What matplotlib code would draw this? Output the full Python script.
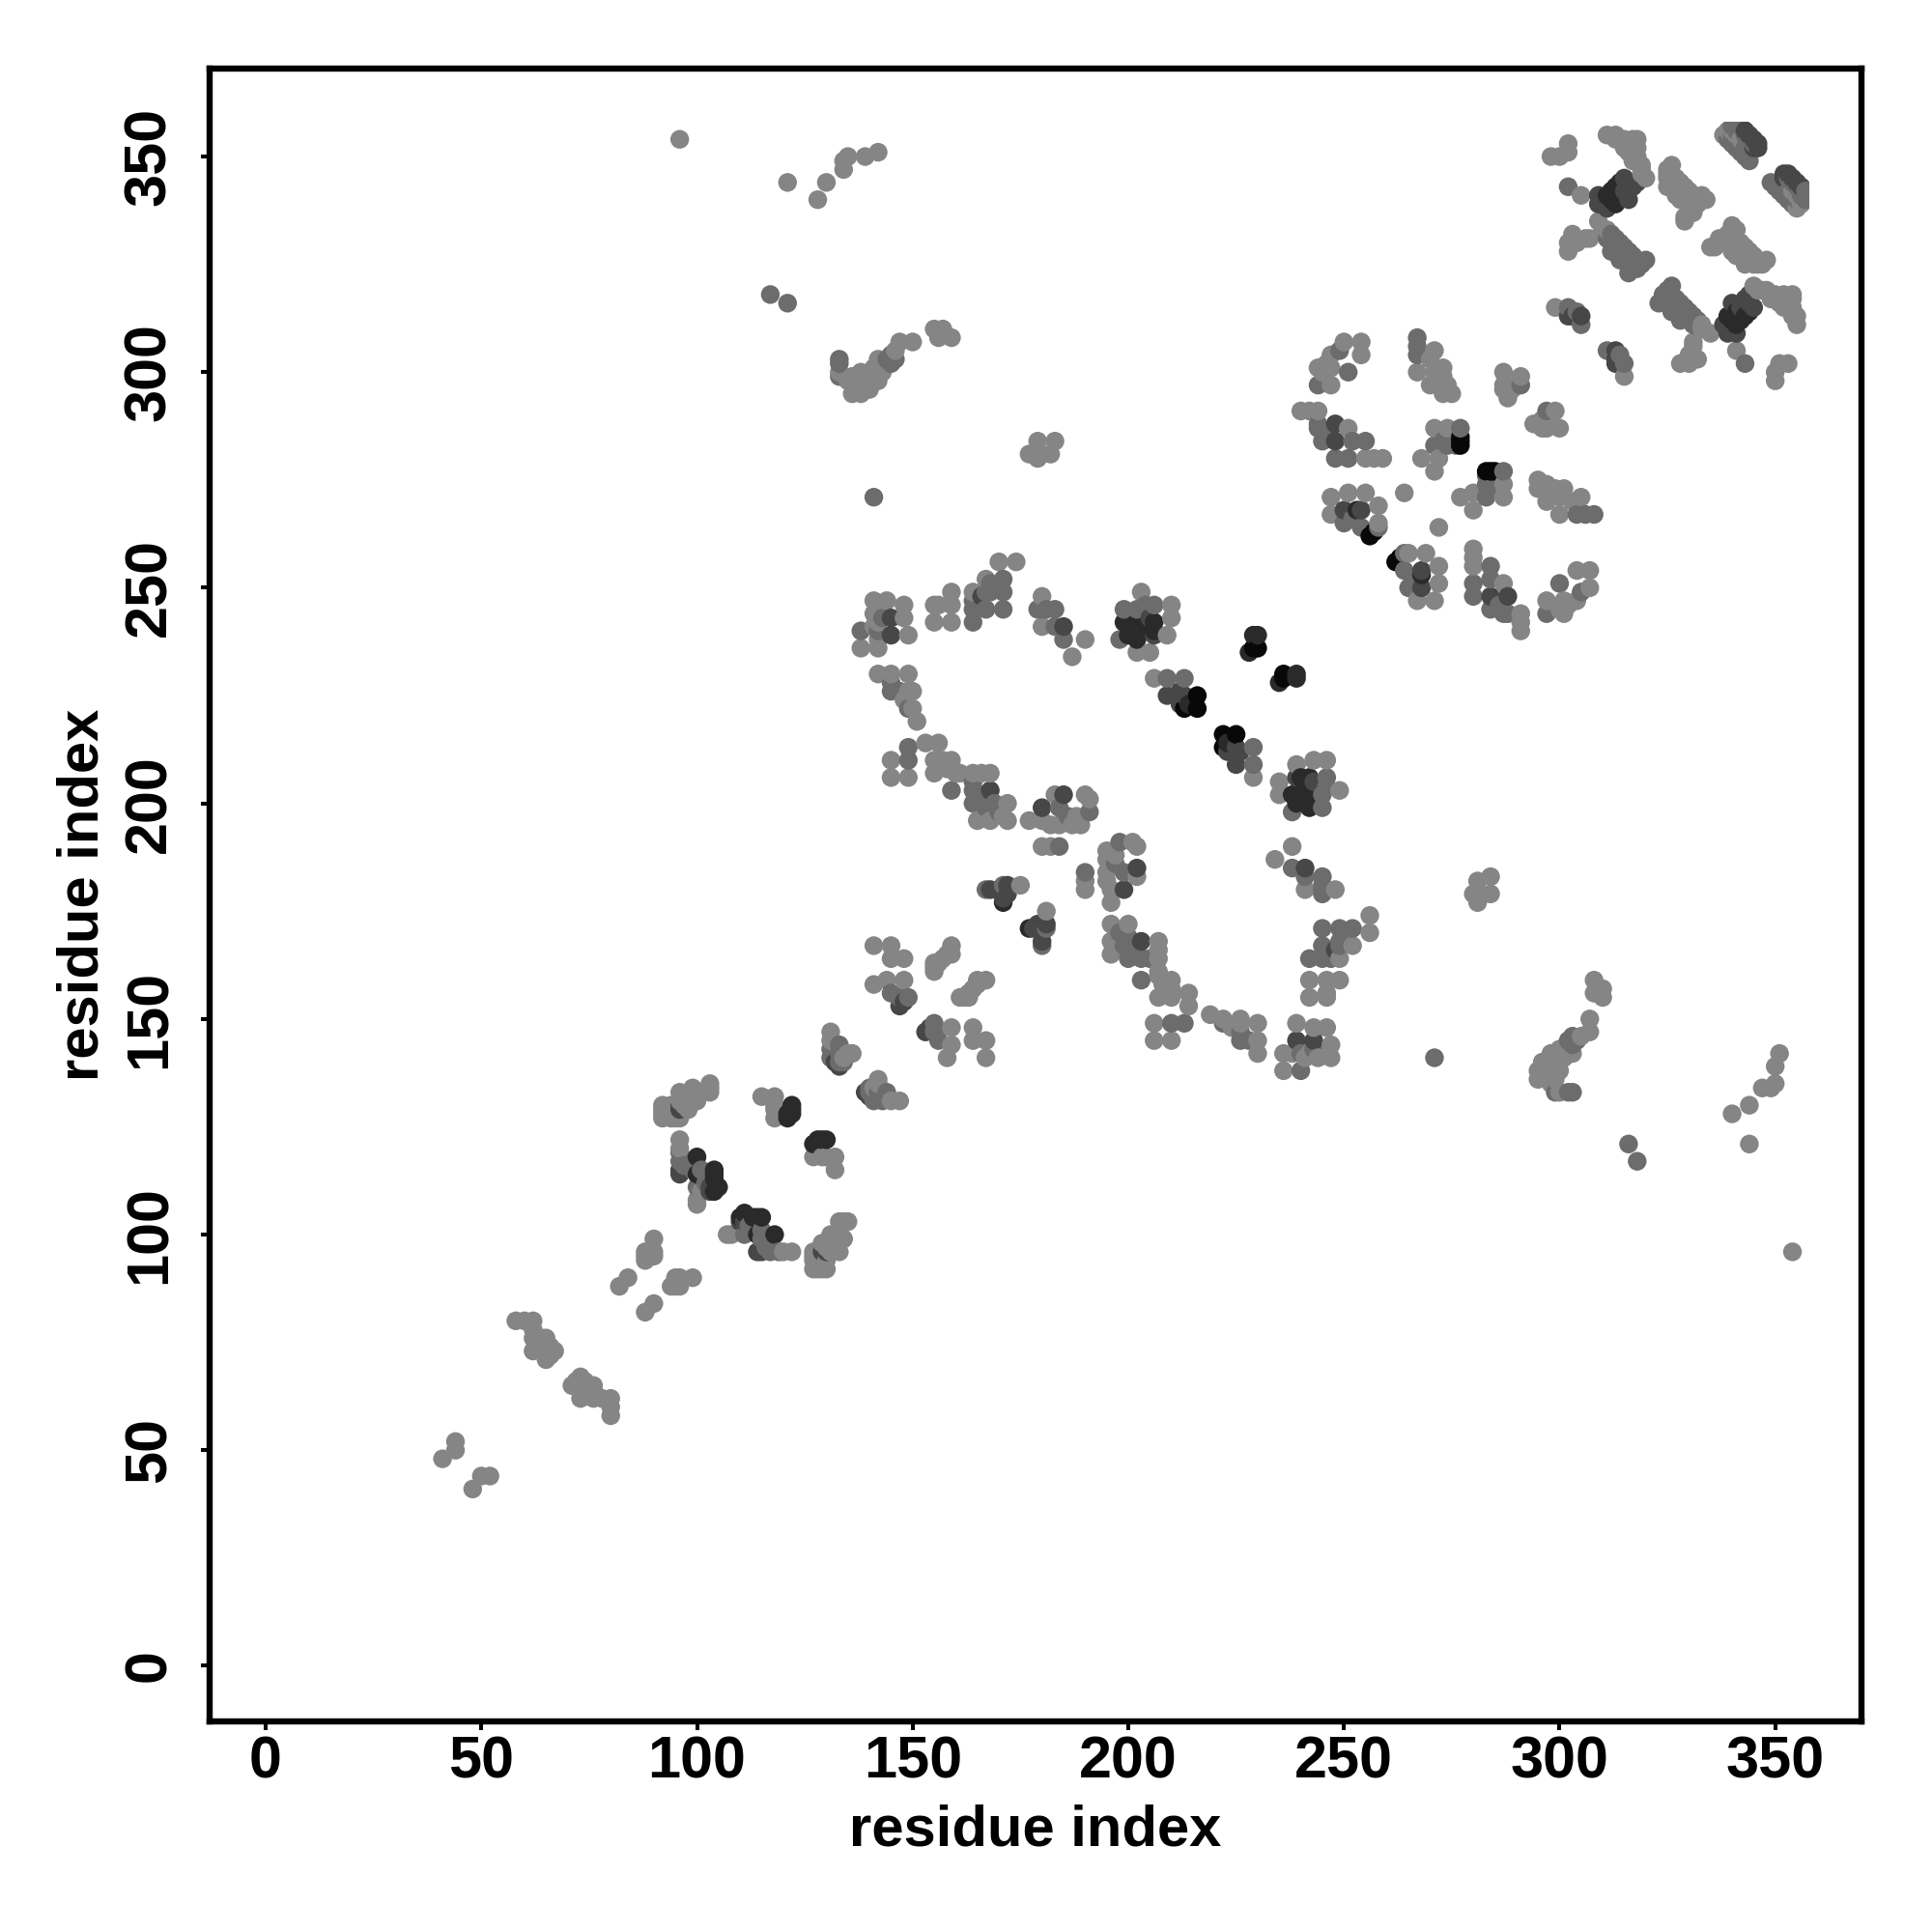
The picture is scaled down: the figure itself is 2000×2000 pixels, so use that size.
import matplotlib
matplotlib.use("Agg")
import numpy as np
import matplotlib.pyplot as plt
from matplotlib.patches import Rectangle

plt.rcParams['font.family'] = ['Liberation Sans', 'DejaVu Sans']

# contacts (i, j), i < j, grouped by how strong the contact is; the map is symmetric
weak = [
    (41,48),(44,50),(44,52),(58,80),(60,80),(62,80),(62,78),(62,76),(62,73),(65,76),(65,74),(65,72),(65,71),
    (66,72),(67,73),(66,74),(64,76),(64,73),(82,88),(84,90),(88,94),(88,95),(88,96),(90,95),(90,96),(90,99),
    (92,127),(92,128),(92,129),(92,130),(93,128),(94,127),(94,129),(94,130),(95,127),(96,127),(96,128),(96,131),
    (96,133),(97,130),(98,129),(99,132),(99,134),(100,131),(103,133),(103,135),(103,134),(96,122),(96,120),
    (100,108),(100,107),(101,110),(115,132),(118,132),(118,130),(118,129),(118,127),(131,147),(131,145),(136,142),
    (135,142),(134,141),(141,167),(145,167),(145,164),(148,164),(141,158),(144,159),(148,159),
    (155,161),(155,162),(155,163),(156,163),(157,164),(158,165),(159,165),(159,167),(175,181),
    (141,247),(144,247),(148,246),(141,244),(148,243),(149,239),(138,236),(142,236),(142,238),(141,241),(142,242),
    (155,246),(156,246),(159,249),(159,246),(155,242),(159,242),(170,256),(174,256),(180,248),(180,241),(190,238),
    (187,234),(210,246),(210,243),(203,249),(209,239),(202,235),(205,235),(206,229),
    (142,230),(145,230),(149,230),(149,226),(150,222),(151,219),(150,226),(148,224),(153,214),(156,214),
    (145,210),(149,206),(145,206),(155,210),(157,210),(159,210),(155,207),(158,208),(160,207),(161,207),(156,209),
    (164,207),(166,207),(168,207),(172,200),(172,196),(171,197),(165,196),(168,196),(177,196),(180,196),(182,195),
    (184,195),(187,195),(189,195),(190,202),(191,201),(188,197),(180,190),(182,190),(183,202),
    (167,252),(164,249),
    (250,307),(254,307),(247,304),(254,304),(244,301),(247,301),(247,297),(245,300),(246,302),
    (267,300),(271,305),(271,300),(270,303),(273,301),(273,299),(274,297),(275,295),(273,295),(270,297),(272,298),
    (287,300),(287,297),(287,296),(288,295),(288,294),(291,299),(290,297),(289,296),
    (240,291),(242,291),(244,291),(251,287),(255,280),(257,280),(259,280),(258,269),(255,272),(251,272),(247,271),
    (264,272),(247,267),(271,287),(274,287),(271,277),(268,280),(272,280),(258,265),
    (298,350),(300,350),(302,351),(302,353),(305,341),(311,355),(313,355),(315,354),(317,354),(318,354),(318,352),
    (318,350),(319,348),(319,346),(317,351),(316,352),(320,345),(319,347),(316,351),(313,354),(315,352),(317,349),
    (325,347),(326,346),(327,345),(328,344),(329,343),(330,342),(331,341),(332,340),(333,340),(334,340),
    (325,345),(326,344),(327,343),(328,342),(329,341),(330,340),(331,339),(329,336),(329,335),(330,337),
    (325,343),(327,341),(328,340),(331,337),(332,339),(333,341),(326,348),(325,346),
    (302,328),(302,330),(303,332),(304,330),(306,331),(307,331),(309,335),(310,333),(311,333),
    (299,315),(338,355),(339,356),(340,356),(341,355),(342,354),
    (96,354),(121,344),(128,340),(130,344),(134,347),(134,349),(135,350),(139,350),(142,351),
    (177,281),(179,281),(179,284),(179,280),(183,284),(182,281),
    (133,300),(135,298),(136,295),(137,297),(138,295),(139,296),(140,298),(140,296),(141,301),(142,303),(143,300),
    (146,305),(147,307),(150,307),(155,310),(156,308),(157,310),(159,308),(136,299),(138,300),(142,298),
]
medium = [
    (96,119),(96,117),(97,116),(99,115),(101,115),(100,111),(102,112),(131,143),(131,141),(133,144),(133,142),
    (133,140),(134,140),(147,155),(149,155),(145,156),(167,180),(171,181),(180,245),
    (138,240),(142,240),(143,243),(164,247),(164,245),(164,242),(168,251),(167,245),(168,249),
    (171,249),(171,245),(179,245),(181,245),(183,245),(183,241),(185,238),(199,245),(198,238),(202,245),(204,246),
    (206,246),(213,229),(209,229),(145,228),(145,226),(147,226),(149,222),(149,213),(149,210),
    (159,203),(164,205),(164,203),(164,200),(169,200),(167,199),(170,198),(166,202),(184,199),(186,197),(191,198),
    (184,190),(167,249),(171,252),
    (251,300),(249,305),(244,297),(267,308),(267,306),(267,304),(291,297),(244,288),(244,287),(248,280),(251,280),
    (252,284),(255,284),(245,284),(246,286),(274,283),(271,283),(277,287),(273,284),(276,283),(254,264),(250,265),
    (252,266),(258,264),(302,343),(302,315),(305,311),(304,314),
    (311,331),(312,332),(312,330),(313,331),(313,329),(314,328),(314,330),(315,329),(315,327),(316,328),(316,326),
    (316,323),(317,327),(317,325),(318,326),(318,324),(319,325),(320,326),(312,328),(314,326),
    (117,318),(121,316),(141,271),(133,303),(133,302),(133,299),(144,303),(145,302),(146,303),(145,304),
    (340,357),(341,356),(342,357),(339,354),(340,355),(340,353),(341,354),(343,350),(344,349),(342,351),
    (343,355),(344,354),(345,353),(341,352),(342,353),(343,352),(344,351),
]
strong = [
    (96,115),(96,114),(96,130),(96,129),(103,111),(103,110),(133,139),(132,140),(147,153),(148,154),(172,179),
    (171,178),(168,180),(170,180),(172,181),(166,248),
    (185,241),(145,243),(145,239),(180,199),(185,202),(168,203),(205,243),(206,239),
    (209,225),(213,225),(212,226),(212,223),(250,268),(254,268),(248,288),(248,284),
    (309,339),(309,341),(311,338),(310,340),(316,340),(315,342),(317,343),(318,344),(316,344),(315,345),
    (343,356),(344,355),(345,354),(346,353),(346,352),(345,352),
    (303,313),(305,313),(302,313),
]
very_strong = [
    (100,118),(100,114),(104,115),(104,114),(104,113),(105,111),(104,110),(121,127),(121,128),(122,130),(122,129),
    (122,128),(171,177),(202,242),(199,242),(206,242),(202,240),(204,241),(206,240),(202,238),(200,239),(202,241),
    (214,223),(253,268),
    (311,341),(312,342),(312,340),(313,343),(313,339),(314,344),(314,341),(230,239),(229,239),(228,235),
]
strongest = [
    (216,225),(216,222),(213,222),(229,236),(230,236),(277,285),(277,284),(277,283),(257,263),(256,262),
]

# one grey per strength group
groups = [weak, medium, strong, very_strong, strongest]
greys = ['#858585', '#6c6c6c', '#474747', '#2a2a2a', '#080808']
# the dots stop here in the original picture
clip_at = 358

xs, ys, cols = [], [], []
for pairs, grey in zip(groups, greys):
    for i, j in pairs:
        xs += [i, j]
        ys += [j, i]
        cols += [grey, grey]
xs = np.array(xs)
ys = np.array(ys)
cols = np.array(cols)
# draw column by column, so lighter dots lie partly over dark ones
order = np.lexsort((ys, xs))

fig = plt.figure(figsize=(20, 20), dpi=100)
ax = fig.add_axes([217/2000, 218/2000, 1710/2000, 1711/2000])
sc = ax.scatter(xs[order], ys[order], s=195, c=list(cols[order]), linewidths=0, zorder=2)
sc.set_clip_path(Rectangle((-13, -13), clip_at + 13, clip_at + 13, transform=ax.transData))

ax.set_xlim(-13, 370)
ax.set_ylim(-12.9, 370.4)
ax.set_xticks(np.arange(0, 351, 50))
ax.set_yticks(np.arange(0, 351, 50))
ax.tick_params(length=6.5, width=2.9, labelsize=44)
ax.tick_params(axis='x', pad=4)
ax.tick_params(axis='y', pad=17)
for lab in ax.get_xticklabels():
    lab.set_fontweight('bold')
for lab in ax.get_yticklabels():
    lab.set_fontweight('bold')
    lab.set_rotation(90)
    lab.set_va('center')
for sp in ax.spines.values():
    sp.set_linewidth(4.6)
ax.set_xlabel('residue index', fontsize=43, fontweight='bold', labelpad=10)
ax.set_ylabel('residue index', fontsize=43, fontweight='bold', labelpad=10)

plt.savefig('out.png', dpi=100)
